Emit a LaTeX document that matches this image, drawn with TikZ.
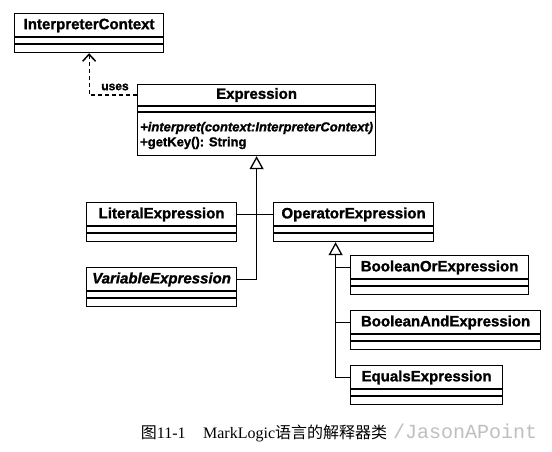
\documentclass[tikz,border=0pt]{standalone}
\usepackage{fontspec}
\setmainfont{Liberation Sans}[BoldFeatures={FakeBold=1.3}, BoldItalicFeatures={FakeBold=1.3}]
\newfontfamily\capfont{Liberation Serif}
\newfontfamily\cjk{Noto Sans CJK SC}
\newfontfamily\wmfont{Liberation Mono}
\usetikzlibrary{arrows.meta}
\newcommand\UMLbox[6]{%
  \node[cls, minimum width=#4pt, minimum height=39pt] (#1) at (#2,#3) {};
  \path (#1.north) ++(0,12.5) node[cname] (#1n) {#6#5};
  \draw[boxline] (#1.north west) ++(0,24) -- ++(#4,0);
  \draw[boxline] (#1.north west) ++(0,31) -- ++(#4,0);
}
\begin{document}
\begin{tikzpicture}[x=1pt,y=-1pt,
  cls/.style={draw, line width=1.2pt, inner sep=0pt, anchor=north west},
  boxline/.style={line width=1.1pt},
  cname/.style={font=\fontsize{15}{15}\selectfont\bfseries, inner sep=0pt},
  opsty/.style={font=\fontsize{13}{13}\selectfont\bfseries, anchor=west, inner sep=0pt},
  dep/.style={dashed, dash pattern=on 4pt off 3pt, line width=1.2pt, -{Straight Barb[length=7pt,width=13pt,line width=1.5pt]}},
  gen/.style={line width=1.3pt, -{Triangle[open, length=13pt, width=14pt, line width=1.3pt, fill=white]}},
  conn/.style={line width=1.3pt}]
\fill[white] (0,0) rectangle (552,452);
\useasboundingbox (0,0) rectangle (552,452);

% InterpreterContext
\UMLbox{ic}{14}{13}{149}{InterpreterContext}{}

% Expression
\node[cls, minimum width=238pt, minimum height=71pt] (ex) at (137,84) {};
\path (ex.north) ++(0,11) node[cname] (exn) {Expression};
\draw[boxline] (ex.north west) ++(0,22) -- ++(238,0);
\draw[boxline] (ex.north west) ++(0,28) -- ++(238,0);
\node[opsty] (op1) at (140,128) {\itshape +interpret(context:InterpreterContext)};
\node[opsty] (op2) at (140,143) {+getKey(): String};

% subclasses
\UMLbox{lit}{86}{202}{150}{LiteralExpression}{}
\UMLbox{var}{86}{267}{150}{VariableExpression}{\itshape}
\UMLbox{ope}{273}{202}{160}{OperatorExpression}{}
\UMLbox{bor}{350}{255}{178}{BooleanOrExpression}{}
\UMLbox{band}{350}{310}{190}{BooleanAndExpression}{}
\UMLbox{eq}{350}{365}{152}{EqualsExpression}{}

% dependency
\draw[dep] (ex.west |- 0,95) -| (ic.south);
\node[font=\fontsize{12}{12}\selectfont\bfseries, inner sep=0pt] (uses) at (115,87) {uses};

% generalization to Expression
\draw[gen] (var.east |- varn) -| (ex.south);
\draw[conn] (lit.east |- litn) -- (ope.west |- open);

% generalization to OperatorExpression
\coordinate (optip) at ([xshift=-18pt]ope.south);
\draw[gen] (eq.west |- eqn) -| (optip);
\draw[conn] (bor.west |- born) -- (optip |- born);
\draw[conn] (band.west |- bandn) -- (optip |- bandn);

% caption
\node[font=\fontsize{16}{16}\selectfont, inner sep=0pt] (cap) at (264,433)
  {{\cjk 图}{\capfont 11-1}\hspace{1.1em}{\capfont MarkLogic}{\cjk 语言的解释器类}};
\node[anchor=west, text=black!25, font=\wmfont\fontsize{20}{20}\selectfont, inner sep=0pt] (wm) at (393,431) {/JasonAPoint};
\end{tikzpicture}
\end{document}
